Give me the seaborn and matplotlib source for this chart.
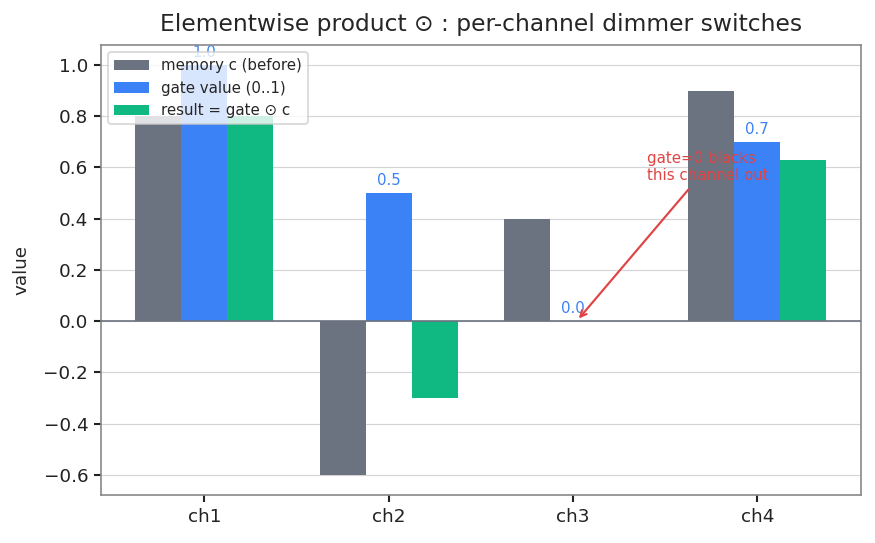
import numpy as np
import matplotlib
matplotlib.use("Agg")
import matplotlib.pyplot as plt
import seaborn as sns
import pandas as pd

channels = ["ch1", "ch2", "ch3", "ch4"]
memory_c = [0.8, -0.6, 0.4, 0.9]
gate = [1.0, 0.5, 0.0, 0.7]
result = [0.8, -0.3, 0.0, 0.63]
series_names = ["memory c (before)", "gate value (0..1)", "result = gate \u2299 c"]
colors = ["#6b7280", "#3b82f6", "#10b981"]

sns.set_theme(style="ticks")
plt.rcParams["font.family"] = ["DejaVu Sans"]

df = pd.DataFrame({
    "channel": channels * 3,
    "value": memory_c + gate + result,
    "series": [s for s in series_names for _ in channels],
})

fig, ax = plt.subplots(figsize=(875 / 120, 543 / 120), dpi=120)
sns.barplot(data=df, x="channel", y="value", hue="series", palette=colors,
            saturation=1, width=0.75, linewidth=0, ax=ax, zorder=2)

ax.axhline(0, color="#6b7280", linewidth=1.0, zorder=3)
ax.yaxis.grid(True, color="#d4d4d8", linewidth=0.7, zorder=0)
ax.set_axisbelow(True)

# labels on gate bars
for i, v in enumerate(gate):
    ax.text(i, v + 0.02, "%.1f" % v, ha="center", va="bottom",
            fontsize=9, color="#3b82f6", zorder=1)

ax.annotate("gate=0 blacks\nthis channel out", xy=(2.02, 0.0), xytext=(2.4, 0.55),
            fontsize=9, color="#e04444",
            arrowprops=dict(arrowstyle="->", color="#e04444", lw=1.3))

ax.set_xlim(-0.5625, 3.5625)
ax.set_ylim(-0.68, 1.08)
ax.set_xlabel("")
ax.set_ylabel("value", fontsize=11, labelpad=8)
ax.tick_params(labelsize=11, colors="#222222", length=4)
for s in ax.spines.values():
    s.set_color("#888888")
    s.set_linewidth(1.0)
ax.set_title("Elementwise product \u2299 : per-channel dimmer switches", fontsize=14, pad=8)

leg = ax.legend(loc="upper left", fontsize=9, frameon=True, handlelength=2.3)
leg.get_frame().set_edgecolor("#cccccc")
leg.set_title(None)

fig.subplots_adjust(left=0.115, right=0.984, top=0.918, bottom=0.088)
fig.savefig("out.png", dpi=120)
